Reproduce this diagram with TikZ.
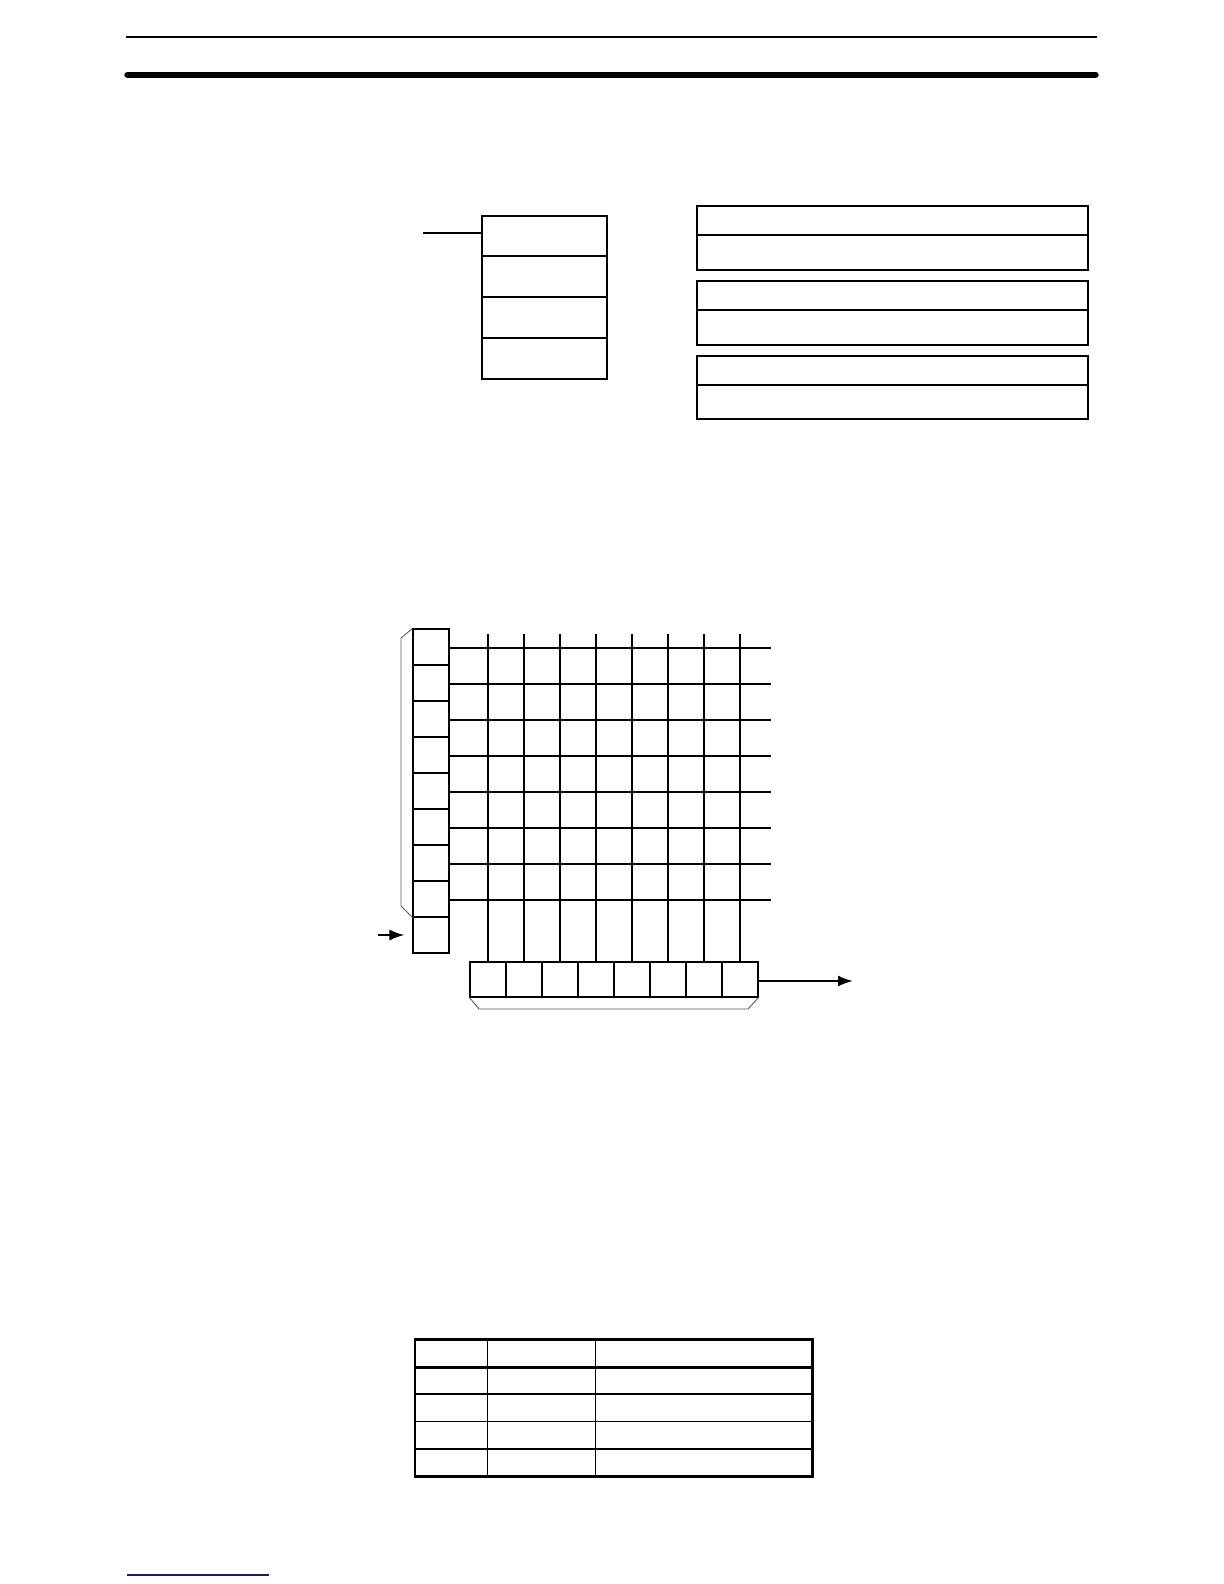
\documentclass[tikz,border=0pt]{standalone}
\usetikzlibrary{arrows.meta}
\definecolor{footnavy}{RGB}{25,25,130}
\definecolor{brgray}{RGB}{90,90,90}
\begin{document}
\begin{tikzpicture}[x=0.5pt,y=-0.5pt,
  stackbox/.style={draw, line width=1pt, rectangle, inner sep=0pt, minimum width=62.5pt, minimum height=20.375pt},
  headbox/.style={draw, line width=0.9pt, rectangle, inner sep=0pt, minimum width=195.5pt, minimum height=14.35pt},
  bodybox/.style={draw, line width=0.9pt, rectangle, inner sep=0pt, minimum width=195.5pt, minimum height=17.5pt},
  gcell/.style={draw, line width=0.55pt, rectangle, inner sep=0pt, minimum width=18pt, minimum height=18pt},
  gline/.style={line width=0.55pt},
  brace/.style={line width=0.45pt, draw=brgray},
  flow/.style={line width=1pt, -{Latex[length=7.5pt,width=5.5pt]}},
  tcell/.style={draw, line width=0.7pt, rectangle, inner sep=0pt, minimum height=13.6pt},
  rule/.style={line width=1pt},
  thickrule/.style={line width=3.2pt, line cap=round}]
\useasboundingbox (0,0) rectangle (1224,1584);

% header rules
\coordinate (r1a) at (126,37.4);
\coordinate (r1b) at (1097,37.4);
\coordinate (r2a) at (127.5,74.8);
\coordinate (r2b) at (1095.5,74.8);
\draw[rule] (r1a) -- (r1b);
\draw[thickrule] (r2a) -- (r2b);

% left stack
\foreach \i in {1,...,4}
  \node[stackbox] (s\i) at (544.2,{215.7+40.75*(\i-0.5)}) {};
\coordinate (sin) at (423,232.7);
\draw[line width=1pt] (sin) -- (sin -| s1.west);

% right boxes
\node[headbox] (h1) at (892.2,220.35) {};
\node[bodybox] (b1x) at (892.2,252.2) {};
\node[headbox] (h2) at (892.2,295.35) {};
\node[bodybox] (b2x) at (892.2,327.2) {};
\node[headbox] (h3) at (892.2,370.35) {};
\node[bodybox,minimum height=17pt] (b3x) at (892.2,401.7) {};

% left column of grid
\foreach \i in {1,...,9}
  \node[gcell] (l\i) at (431,{611+36*\i}) {};
% bottom row
\foreach \j in {1,...,8}
  \node[gcell,minimum height=17.5pt] (b\j) at ({452+36*\j},979.5) {};

% horizontal grid lines
\foreach \i in {1,...,8} {
  \coordinate (he\i) at (771,{611+36*\i+1});
  \draw[gline] (l\i.east |- he\i) -- (he\i);
}
% vertical grid lines
\foreach \j in {1,...,8} {
  \coordinate (vt\j) at ({452+36*\j},634);
  \draw[gline] (vt\j) -- (b\j.north);
}

% brackets
\coordinate (bl1) at (401,638);
\coordinate (bl2) at (401,906);
\draw[brace] (l1.north west) -- (bl1) -- (bl2) -- (l8.south west);
\coordinate (bb1) at (479,1009);
\coordinate (bb2) at (748,1009);
\draw[brace] (b1.south west) -- (bb1) -- (bb2) -- (b8.south east);

% arrows
\coordinate (ain) at (378,935);
\draw[flow, shorten >=4pt] (ain) -- (ain -| l9.west);
\coordinate (aout) at (853,981);
\draw[flow] (b8.east |- aout) -- (aout);

% table
\foreach \r/\y in {1/1353.5,2/1380.5,3/1407.6,4/1435.1,5/1462.5} {
  \node[tcell, minimum width=35.8pt] (t\r1) at (451.5,\y) {};
  \node[tcell, minimum width=54pt] (t\r2) at (541.3,\y) {};
  \node[tcell, minimum width=108.35pt] (t\r3) at (703.65,\y) {};
}
\draw[line width=1.2pt] (t11.north west) rectangle (t53.south east);
\draw[line width=1.1pt] (t11.south west) -- (t13.south east);

% footer rule
\coordinate (f1) at (126.7,1575);
\coordinate (f2) at (269,1575);
\draw[line width=0.6pt, footnavy] (f1) -- (f2);
\end{tikzpicture}
\end{document}
